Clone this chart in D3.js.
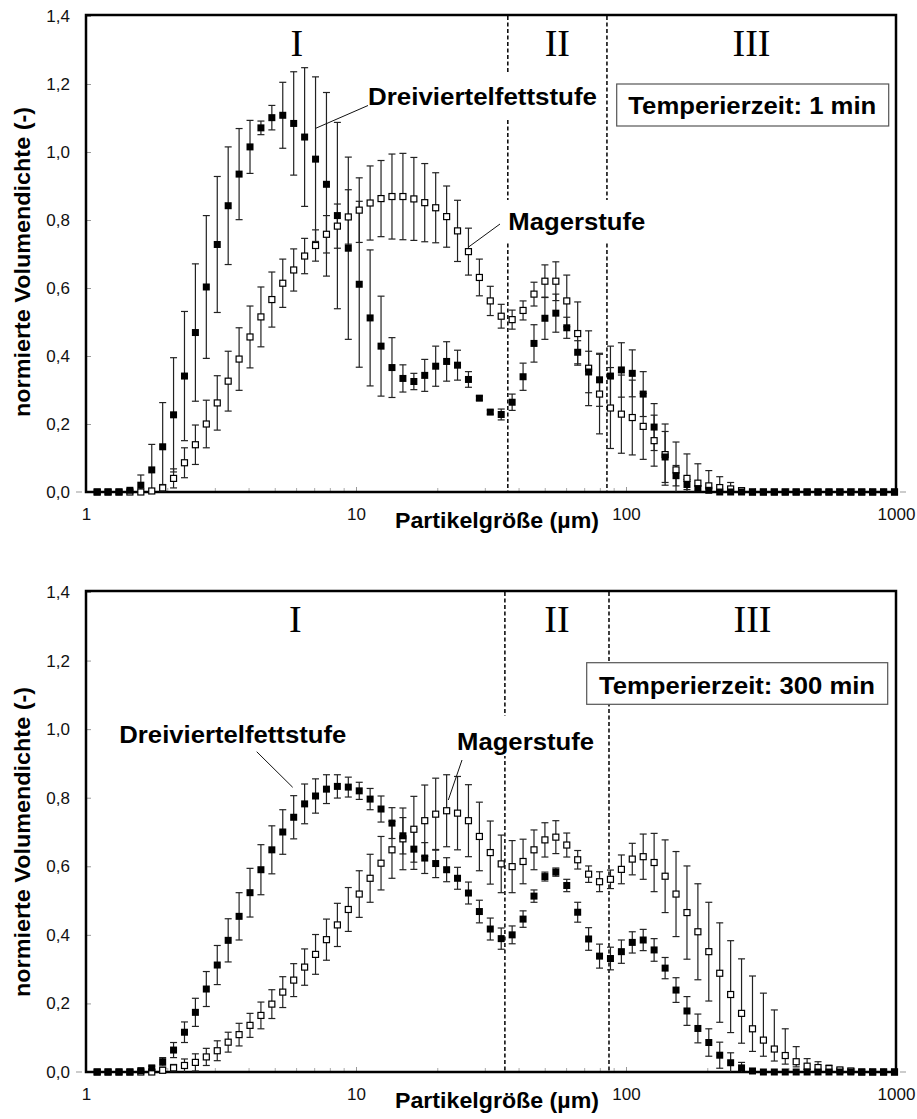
<!DOCTYPE html>
<html>
<head>
<meta charset="utf-8">
<script src="https://cdn.jsdelivr.net/npm/d3@7"></script>
<style>
  body { margin: 0; background: #fff; }
  svg { display: block; }
</style>
</head>
<body>
<svg id="chart" width="917" height="1119"></svg>
<script>
// particle size classes of the analyser (µm)
var sizes = [1.100, 1.207, 1.325, 1.454, 1.596, 1.752, 1.923, 2.110, 2.316, 2.542,
  2.790, 3.063, 3.362, 3.690, 4.050, 4.445, 4.879, 5.355, 5.878, 6.452,
  7.082, 7.773, 8.532, 9.365, 10.28, 11.28, 12.38, 13.59, 14.92, 16.38,
  17.97, 19.73, 21.66, 23.77, 26.09, 28.64, 31.43, 34.50, 37.87, 41.57,
  45.63, 50.08, 54.97, 60.34, 66.23, 72.70, 79.80, 87.59, 96.14, 105.5,
  115.8, 127.1, 139.6, 153.2, 168.2, 184.6, 202.6, 222.4, 244.1, 267.9,
  294.1, 322.8, 354.3, 388.9, 426.9, 468.6, 514.3, 564.6, 619.7, 680.2,
  746.6, 819.5, 899.5, 987.3];

// Temperierzeit 1 min
var fett1 = [0, 0, 0, 0.005, 0.02, 0.065, 0.133, 0.227, 0.341, 0.469,
  0.603, 0.728, 0.842, 0.935, 1.015, 1.071, 1.101, 1.108, 1.084, 1.044,
  0.979, 0.905, 0.813, 0.717, 0.611, 0.512, 0.429, 0.366, 0.334, 0.325,
  0.343, 0.37, 0.384, 0.373, 0.331, 0.276, 0.235, 0.228, 0.264, 0.339,
  0.437, 0.511, 0.526, 0.483, 0.411, 0.353, 0.33, 0.341, 0.359, 0.349,
  0.288, 0.191, 0.103, 0.048, 0.022, 0.01, 0.005, 0, 0, 0,
  0, 0, 0, 0, 0, 0, 0, 0, 0, 0, 0, 0, 0, 0];
var fett1Err = [0, 0, 0, 0, 0.03, 0.075, 0.13, 0.168, 0.19, 0.202,
  0.21, 0.2, 0.173, 0.134, 0.078, 0.02, 0.036, 0.097, 0.152, 0.204,
  0.242, 0.27, 0.274, 0.268, 0.244, 0.2, 0.147, 0.088, 0.04, 0.024,
  0.047, 0.059, 0.058, 0.044, 0.023, 0.006, 0.006, 0.016, 0.024, 0.04,
  0.055, 0.062, 0.056, 0.031, 0.034, 0.061, 0.078, 0.088, 0.08, 0.069,
  0.066, 0.069, 0.075, 0.03, 0.015, 0.008, 0, 0, 0, 0,
  0, 0, 0, 0, 0, 0, 0, 0, 0, 0, 0, 0, 0, 0];
var mager1 = [0, 0, 0, 0, 0, 0.003, 0.012, 0.04, 0.086, 0.139,
  0.2, 0.262, 0.326, 0.391, 0.456, 0.515, 0.566, 0.614, 0.653, 0.694,
  0.725, 0.758, 0.782, 0.809, 0.829, 0.85, 0.863, 0.869, 0.869, 0.862,
  0.851, 0.836, 0.81, 0.768, 0.707, 0.631, 0.562, 0.517, 0.507, 0.534,
  0.582, 0.62, 0.62, 0.562, 0.466, 0.364, 0.288, 0.247, 0.229, 0.219,
  0.193, 0.151, 0.11, 0.065, 0.04, 0.026, 0.018, 0.013, 0.009, 0.004,
  0, 0, 0, 0, 0, 0, 0, 0, 0, 0, 0, 0, 0, 0];
var mager1Err = [0, 0, 0, 0, 0, 0, 0.01, 0.028, 0.044, 0.058,
  0.07, 0.08, 0.088, 0.092, 0.091, 0.088, 0.081, 0.071, 0.062, 0.052,
  0.046, 0.055, 0.065, 0.08, 0.095, 0.109, 0.112, 0.125, 0.127, 0.122,
  0.115, 0.103, 0.09, 0.09, 0.069, 0.054, 0.043, 0.035, 0.028, 0.028,
  0.035, 0.048, 0.057, 0.076, 0.093, 0.11, 0.117, 0.119, 0.115, 0.11,
  0.097, 0.075, 0.09, 0.082, 0.072, 0.057, 0.045, 0.032, 0.019, 0.005,
  0, 0, 0, 0, 0, 0, 0, 0, 0, 0, 0, 0, 0, 0];

// Temperierzeit 300 min
var fett300 = [0, 0, 0, 0, 0.004, 0.012, 0.03, 0.064, 0.116, 0.174,
  0.242, 0.312, 0.384, 0.454, 0.523, 0.59, 0.648, 0.7, 0.743, 0.782,
  0.805, 0.825, 0.833, 0.831, 0.82, 0.796, 0.767, 0.726, 0.689, 0.65,
  0.624, 0.608, 0.59, 0.565, 0.522, 0.468, 0.417, 0.389, 0.4, 0.446,
  0.513, 0.57, 0.583, 0.544, 0.466, 0.388, 0.338, 0.331, 0.351, 0.378,
  0.385, 0.356, 0.303, 0.239, 0.178, 0.127, 0.086, 0.049, 0.027, 0.012,
  0.003, 0, 0, 0, 0, 0, 0, 0, 0, 0, 0, 0, 0, 0];
var fett300Err = [0, 0, 0, 0, 0, 0.005, 0.012, 0.022, 0.03, 0.041,
  0.051, 0.057, 0.063, 0.069, 0.071, 0.073, 0.07, 0.065, 0.063, 0.058,
  0.05, 0.042, 0.034, 0.029, 0.025, 0.031, 0.038, 0.045, 0.053, 0.059,
  0.045, 0.041, 0.035, 0.032, 0.032, 0.033, 0.032, 0.031, 0.026, 0.024,
  0.018, 0.013, 0.012, 0.018, 0.029, 0.033, 0.035, 0.033, 0.034, 0.031,
  0.031, 0.033, 0.031, 0.036, 0.042, 0.042, 0.04, 0.038, 0.029, 0.016,
  0, 0, 0, 0, 0, 0, 0, 0, 0, 0, 0, 0, 0, 0];
var mager300 = [0, 0, 0, 0, 0, 0, 0.005, 0.012, 0.019, 0.028,
  0.044, 0.062, 0.087, 0.109, 0.136, 0.165, 0.198, 0.233, 0.268, 0.306,
  0.343, 0.386, 0.429, 0.474, 0.519, 0.565, 0.609, 0.648, 0.68, 0.708,
  0.733, 0.752, 0.762, 0.755, 0.733, 0.687, 0.64, 0.607, 0.599, 0.614,
  0.648, 0.677, 0.685, 0.662, 0.619, 0.577, 0.555, 0.562, 0.591, 0.621,
  0.628, 0.611, 0.571, 0.519, 0.465, 0.409, 0.351, 0.288, 0.226, 0.171,
  0.126, 0.093, 0.067, 0.048, 0.03, 0.017, 0.013, 0.01, 0.006, 0.003,
  0, 0, 0, 0];
var mager300Err = [0, 0, 0, 0, 0, 0, 0.005, 0.01, 0.019, 0.025,
  0.025, 0.029, 0.029, 0.033, 0.035, 0.039, 0.042, 0.045, 0.048, 0.053,
  0.058, 0.06, 0.063, 0.064, 0.068, 0.07, 0.078, 0.083, 0.09, 0.096,
  0.104, 0.105, 0.105, 0.107, 0.105, 0.1, 0.092, 0.084, 0.076, 0.065,
  0.058, 0.05, 0.048, 0.035, 0.027, 0.024, 0.029, 0.027, 0.042, 0.046,
  0.066, 0.085, 0.106, 0.124, 0.136, 0.14, 0.144, 0.147, 0.157, 0.159,
  0.154, 0.137, 0.114, 0.078, 0.044, 0.022, 0.017, 0.01, 0.005, 0,
  0, 0, 0, 0];
// lower whiskers of the coarse tail are shorter than the upper ones
var mager300ErrLow = [0, 0, 0, 0, 0, 0, 0.005, 0.01, 0.019, 0.025,
  0.025, 0.029, 0.029, 0.033, 0.035, 0.039, 0.042, 0.045, 0.048, 0.053,
  0.058, 0.06, 0.063, 0.064, 0.068, 0.07, 0.078, 0.083, 0.09, 0.096,
  0.104, 0.105, 0.105, 0.107, 0.105, 0.1, 0.092, 0.084, 0.076, 0.065,
  0.058, 0.05, 0.048, 0.035, 0.027, 0.024, 0.029, 0.027, 0.042, 0.046,
  0.066, 0.085, 0.106, 0.124, 0.136, 0.14, 0.144, 0.143, 0.111, 0.087,
  0.066, 0.047, 0.035, 0.025, 0.015, 0.01, 0.008, 0.005, 0.005, 0,
  0, 0, 0, 0];

var yTicks = [0, 0.2, 0.4, 0.6, 0.8, 1.0, 1.2, 1.4];
var xTicks = [1, 10, 100, 1000];
var xMinor = [2, 3, 4, 5, 6, 7, 8, 9, 20, 30, 40, 50, 60, 70, 80, 90,
  200, 300, 400, 500, 600, 700, 800, 900];
var zones1 = [36.5, 85];
var zones300 = [35.6, 86.5];
var zoneNames = ["I", "II", "III"];

var svg = d3.select("#chart");
var sans = "'Liberation Sans', Arial, sans-serif";
var de = d3.formatLocale({decimal: ",", thousands: ".", grouping: [3], currency: ["", " €"]});
var fmt = de.format(".1f");

function rows(vals, err, errLow) {
  return sizes.map(function(s, i) {
    return {x: s, v: vals[i], hi: err[i], lo: errLow ? errLow[i] : err[i]};
  });
}

function drawPanel(cfg) {
  var g = svg.append("g");
  var x = d3.scaleLog().domain([1, 1000]).range([86, 896]);
  var y = d3.scaleLinear().domain([0, 1.4]).range([cfg.bottom, cfg.top]);

  // y axis labels, ticks pointing inside
  var ya = g.append("g").attr("transform", "translate(86,0)")
    .call(d3.axisLeft(y).tickValues(yTicks).tickFormat(fmt).tickSizeInner(-5).tickSizeOuter(0).tickPadding(16));
  ya.select(".domain").remove();
  ya.selectAll("line").attr("stroke", "#999");
  ya.selectAll("text").attr("font-family", sans).attr("font-size", 17).attr("fill", "#111");

  var xa = g.append("g").attr("transform", "translate(0," + cfg.bottom + ")")
    .call(d3.axisBottom(x).tickValues(xTicks).tickFormat(d3.format("d")).tickSizeInner(-5).tickSizeOuter(0).tickPadding(16));
  xa.select(".domain").remove();
  xa.selectAll("line").attr("stroke", "#999");
  xa.selectAll("text").attr("font-family", sans).attr("font-size", 17).attr("fill", "#111");

  var xm = g.append("g").attr("transform", "translate(0," + cfg.bottom + ")")
    .call(d3.axisBottom(x).tickValues(xMinor).tickFormat("").tickSizeInner(-4).tickSizeOuter(0));
  xm.select(".domain").remove();
  xm.selectAll("line").attr("stroke", "#aaa");

  // little stubs at zero on both sides
  g.append("line").attr("x1", 76).attr("x2", 82).attr("y1", y(0)).attr("y2", y(0)).attr("stroke", "#999");
  g.append("line").attr("x1", 900).attr("x2", 906).attr("y1", y(0)).attr("y2", y(0)).attr("stroke", "#999");

  // frame
  g.append("rect").attr("x", 86).attr("y", cfg.top - 1).attr("width", 810).attr("height", cfg.bottom - cfg.top + 1)
    .attr("fill", "none").attr("stroke", "#000").attr("stroke-width", 2.5);

  // zone borders
  g.selectAll(".zone").data(cfg.zones).join("line")
    .attr("x1", function(d) { return x(d); }).attr("x2", function(d) { return x(d); })
    .attr("y1", cfg.top).attr("y2", cfg.bottom)
    .attr("stroke", "#000").attr("stroke-width", 1.5).attr("stroke-dasharray", "4,2.5");

  // zone names in the geometric middle of each zone
  var edges = [1].concat(cfg.zones, [1000]);
  g.selectAll(".zname").data(zoneNames).join("text")
    .attr("x", function(d, i) { return x(Math.sqrt(edges[i] * edges[i + 1])); })
    .attr("y", cfg.top + 40)
    .attr("text-anchor", "middle")
    .attr("font-family", "'Liberation Serif', 'Times New Roman', serif")
    .attr("font-size", 38)
    .text(function(d) { return d; });

  var series = [
    {data: rows(cfg.mager, cfg.magerErr, cfg.magerErrLow), filled: false},
    {data: rows(cfg.fett, cfg.fettErr), filled: true}
  ];

  // error bars first, markers on top
  series.forEach(function(s) {
    var withErr = s.data.filter(function(d) { return d.hi > 0 || d.lo > 0; });
    var eb = g.append("g").attr("stroke", "#222").attr("stroke-width", 1.2);
    eb.selectAll(".v").data(withErr).join("line")
      .attr("x1", function(d) { return x(d.x); }).attr("x2", function(d) { return x(d.x); })
      .attr("y1", function(d) { return y(Math.max(0, d.v - d.lo)); })
      .attr("y2", function(d) { return y(d.v + d.hi); });
    eb.selectAll(".top").data(withErr).join("line")
      .attr("x1", function(d) { return x(d.x) - 3.5; }).attr("x2", function(d) { return x(d.x) + 3.5; })
      .attr("y1", function(d) { return y(d.v + d.hi); }).attr("y2", function(d) { return y(d.v + d.hi); });
    eb.selectAll(".bot").data(withErr.filter(function(d) { return d.v - d.lo > 0; })).join("line")
      .attr("x1", function(d) { return x(d.x) - 3.5; }).attr("x2", function(d) { return x(d.x) + 3.5; })
      .attr("y1", function(d) { return y(d.v - d.lo); }).attr("y2", function(d) { return y(d.v - d.lo); });
  });

  series.forEach(function(s) {
    var sz = s.filled ? 7 : 6;
    g.append("g").selectAll("rect").data(s.data).join("rect")
      .attr("x", function(d) { return x(d.x) - sz / 2; })
      .attr("y", function(d) { return y(d.v) - sz / 2; })
      .attr("width", sz).attr("height", sz)
      .attr("fill", s.filled ? "#000" : "#fff")
      .attr("stroke", "#000").attr("stroke-width", s.filled ? 0 : 1.2);
  });

  // series labels with white text boxes and leader lines
  cfg.notes.forEach(function(n) {
    g.append("rect").attr("x", n.box[0]).attr("y", n.box[1]).attr("width", n.box[2]).attr("height", n.box[3])
      .attr("fill", "#fff");
    g.append("text").attr("x", n.tx).attr("y", n.ty)
      .attr("font-family", sans).attr("font-weight", "bold").attr("font-size", 23)
      .attr("textLength", n.len).attr("lengthAdjust", "spacingAndGlyphs")
      .text(n.label);
    g.append("line").attr("x1", n.line[0]).attr("y1", n.line[1]).attr("x2", n.line[2]).attr("y2", n.line[3])
      .attr("stroke", "#111").attr("stroke-width", 1);
  });

  // time box
  var t = cfg.time;
  g.append("rect").attr("x", t.box[0]).attr("y", t.box[1]).attr("width", t.box[2]).attr("height", t.box[3])
    .attr("fill", "#fff").attr("stroke", "#555").attr("stroke-width", 1.2);
  g.append("text").attr("x", t.tx).attr("y", t.ty)
    .attr("font-family", sans).attr("font-weight", "bold").attr("font-size", 23)
    .attr("textLength", t.len).attr("lengthAdjust", "spacingAndGlyphs")
    .text(t.label);

  // axis titles
  g.append("text")
    .attr("transform", "translate(30," + cfg.yLabelMid + ") rotate(-90)")
    .attr("text-anchor", "middle")
    .attr("font-family", sans).attr("font-weight", "bold").attr("font-size", 22)
    .attr("textLength", 310).attr("lengthAdjust", "spacingAndGlyphs")
    .text("normierte Volumendichte (-)");
  g.append("text")
    .attr("x", 497).attr("y", cfg.bottom + 36)
    .attr("text-anchor", "middle")
    .attr("font-family", sans).attr("font-weight", "bold").attr("font-size", 22)
    .attr("textLength", 204).attr("lengthAdjust", "spacingAndGlyphs")
    .text("Partikelgröße (µm)");
}

drawPanel({
  top: 16, bottom: 492, yLabelMid: 262, zones: zones1,
  fett: fett1, fettErr: fett1Err, mager: mager1, magerErr: mager1Err,
  notes: [
    {label: "Dreiviertelfettstufe", tx: 368, ty: 105, len: 229, box: [362, 72, 240, 46], line: [315.7, 128.3, 368, 105.5]},
    {label: "Magerstufe", tx: 508.3, ty: 230, len: 137, box: [503, 200, 147, 42], line: [469, 246.7, 500, 224]}
  ],
  time: {label: "Temperierzeit: 1 min", tx: 628.3, ty: 114, len: 248, box: [616.7, 84, 272, 42]}
});

drawPanel({
  top: 592, bottom: 1072, yLabelMid: 842, zones: zones300,
  fett: fett300, fettErr: fett300Err, mager: mager300, magerErr: mager300Err, magerErrLow: mager300ErrLow,
  notes: [
    {label: "Dreiviertelfettstufe", tx: 119.3, ty: 743, len: 227, box: [114, 720, 238, 35], line: [256.7, 751.7, 292.7, 787.3]},
    {label: "Magerstufe", tx: 457, ty: 750, len: 137, box: [452, 716, 148, 40], line: [462, 760, 448.3, 800]}
  ],
  time: {label: "Temperierzeit: 300 min", tx: 599, ty: 694, len: 276, box: [586.7, 662.7, 301, 41.6]}
});
</script>
</body>
</html>
